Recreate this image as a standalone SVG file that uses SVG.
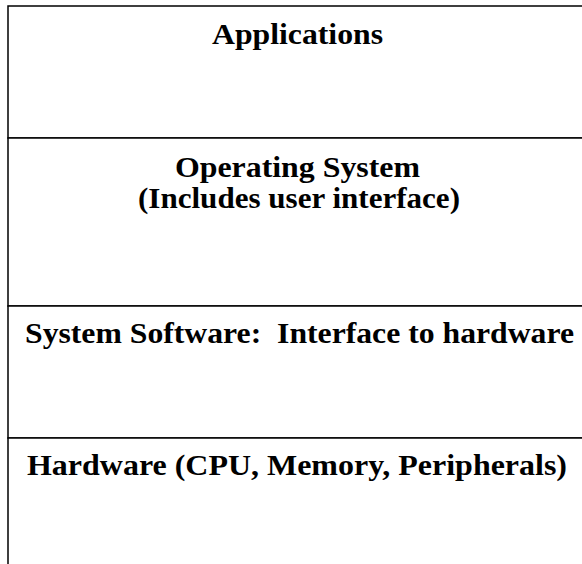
<svg xmlns="http://www.w3.org/2000/svg" width="582" height="564" viewBox="0 0 582 564">
<style>
.layer{fill:#ffffff;stroke:#000000;stroke-width:1.5}
.lbl{font-family:"Liberation Serif","Times New Roman",serif;font-weight:bold;font-size:30px;fill:#000000;text-anchor:middle;white-space:pre}
</style>
<rect x="0" y="0" width="582" height="564" fill="#ffffff"/>
<g id="applications">
<rect class="layer" x="8" y="6" width="600" height="132"/>
<text class="lbl" x="297.5" y="43.5" textLength="171" lengthAdjust="spacingAndGlyphs">Applications</text>
</g>
<g id="operating-system">
<rect class="layer" x="8" y="138" width="600" height="168"/>
<text class="lbl" x="297.5" y="176.5" textLength="245" lengthAdjust="spacingAndGlyphs">Operating System</text>
<text class="lbl" x="299" y="208" textLength="322" lengthAdjust="spacingAndGlyphs">(Includes user interface)</text>
</g>
<g id="system-software">
<rect class="layer" x="8" y="306" width="600" height="132"/>
<text class="lbl" x="299.5" y="342.5" textLength="549" lengthAdjust="spacingAndGlyphs" xml:space="preserve">System Software:  Interface to hardware</text>
</g>
<g id="hardware">
<rect class="layer" x="8" y="438" width="600" height="140"/>
<text class="lbl" x="297" y="475" textLength="540" lengthAdjust="spacingAndGlyphs">Hardware (CPU, Memory, Peripherals)</text>
</g>
<g id="connectors"></g>
</svg>
